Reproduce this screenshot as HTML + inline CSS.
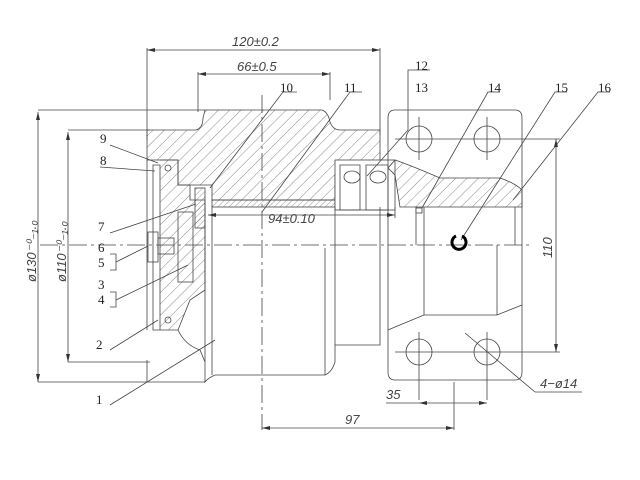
<!DOCTYPE html>
<html><head><meta charset="utf-8"><style>
html,body{margin:0;padding:0;background:#fff;}
svg{display:block;}
text{font-family:"Liberation Serif",serif;fill:#222;}
.it{font-style:italic;font-family:"Liberation Sans",sans-serif;fill:#444;}
</style></head><body>
<svg width="640" height="480" viewBox="0 0 640 480" xmlns="http://www.w3.org/2000/svg">
<defs>
<pattern id="h" patternUnits="userSpaceOnUse" width="8" height="8" patternTransform="rotate(45)">
<line x1="0" y1="0" x2="0" y2="8" stroke="#555" stroke-width="0.7"/></pattern>
<pattern id="h2" patternUnits="userSpaceOnUse" width="4" height="4" patternTransform="rotate(45)">
<line x1="0" y1="0" x2="0" y2="4" stroke="#555" stroke-width="0.6"/></pattern>
</defs>
<g fill="none" stroke="#444" stroke-width="0.8">
<!-- dimension 120 -->
<line x1="147" y1="50" x2="380" y2="50"/>
<line x1="147" y1="48" x2="147" y2="140"/>
<line x1="380" y1="48" x2="380" y2="135"/>
<!-- dimension 66 -->
<line x1="198" y1="74" x2="330" y2="74"/>
<line x1="198" y1="72" x2="198" y2="112"/>
<line x1="330" y1="72" x2="330" y2="100"/>
<!-- diameter dims -->
<line x1="38" y1="110" x2="205" y2="110"/>
<line x1="68" y1="130" x2="150" y2="130"/>
<line x1="38" y1="112" x2="38" y2="382"/>
<line x1="68" y1="132" x2="68" y2="362"/>
<line x1="38" y1="382" x2="205" y2="382"/>
<line x1="68" y1="362" x2="150" y2="362"/>
<!-- main roller hatched upper body -->
<path d="M147 130 L196 130 Q203 128 203 118 L205 110 L322 110 Q328 112 330 122 Q333 130 340 130 L380 130 L380 175 L335 175 L335 200 L212 200 L212 185 L178 185 L178 160 L147 160 Z" fill="url(#h)"/>
<!-- sleeve strip -->
<rect x="212" y="200" width="123" height="7" fill="url(#h2)"/>
<!-- bearings -->
<rect x="335" y="160" width="60" height="50" fill="#fff"/>
<path d="M340 165 h20 v45 h-20 z M366 165 h22 v45 h-22 z"/>
<ellipse cx="352" cy="177" rx="8" ry="6"/><ellipse cx="378" cy="177" rx="8" ry="6"/>
<!-- left end cap -->
<path d="M147 160 L147 330 M147 360 L147 382" />
<path d="M160 160 L178 160 L178 185 L190 185 L190 200 L205 200 L205 290 L190 300 L178 330 L160 330" fill="url(#h)"/>
<path d="M153 165 L160 165 L160 330 L153 330 Z"/>
<circle cx="168" cy="168" r="3"/><circle cx="168" cy="320" r="3"/>
<rect x="148" y="232" width="10" height="30"/>
<rect x="158" y="238" width="16" height="16"/>
<rect x="178" y="212" width="15" height="70"/>
<rect x="195" y="188" width="10" height="40" fill="url(#h2)"/>
<!-- lower roller body -->
<path d="M178 330 Q185 345 200 350 L205 362 L205 382 Q208 378 215 375 L325 375 Q332 372 335 362 L335 345 L380 345 L380 248"/>
<line x1="205" y1="207" x2="205" y2="362"/>
<line x1="212" y1="207" x2="212" y2="375"/>
<line x1="325" y1="248" x2="325" y2="375"/>
<line x1="335" y1="207" x2="335" y2="345"/>
<line x1="380" y1="207" x2="380" y2="248"/>
<!-- right bracket -->
<path d="M395 110 L515 110 Q522 110 522 118 L522 372 Q522 380 515 380 L395 380 Q388 380 388 372 L388 118 Q388 110 395 110 Z"/>
<path d="M388 168 L395 175 L400 207 L522 207 L522 190 Q515 183 500 178 L440 178 Q410 165 395 160 Z" fill="url(#h)"/>
<circle cx="419" cy="139" r="13"/><circle cx="487" cy="139" r="13"/>
<circle cx="419" cy="352" r="13"/><circle cx="487" cy="352" r="13"/>
<line x1="419" y1="117" x2="419" y2="160"/><line x1="487" y1="117" x2="487" y2="160"/>
<line x1="419" y1="332" x2="419" y2="400"/><line x1="487" y1="332" x2="487" y2="400"/>
<line x1="395" y1="139" x2="560" y2="139"/>
<line x1="395" y1="352" x2="560" y2="352"/>
<line x1="416" y1="207" x2="416" y2="245"/><line x1="424" y1="207" x2="424" y2="315"/>
<line x1="497" y1="245" x2="497" y2="315"/><line x1="515" y1="207" x2="515" y2="245"/>
<path d="M388 330 L395 327 L424 315 L497 315 L522 305"/>
<rect x="416" y="208" width="6" height="5" fill="#fff"/>
<!-- centre lines -->
<line x1="40" y1="245" x2="530" y2="245" stroke-dasharray="18 4 3 4"/>
<line x1="262" y1="95" x2="262" y2="430" stroke-dasharray="18 4 3 4"/>
<!-- dim 94 -->
<line x1="208" y1="215" x2="395" y2="215"/>
<line x1="395" y1="207" x2="395" y2="218"/>
<!-- dim 110 -->
<line x1="556" y1="139" x2="556" y2="352"/>
<!-- dim 35/97 -->
<line x1="386" y1="403" x2="487" y2="403"/>
<line x1="262" y1="428" x2="454" y2="428"/>
<line x1="454" y1="382" x2="454" y2="430"/>
<!-- 4-ø14 leader -->
<line x1="465" y1="333" x2="535" y2="392"/><line x1="535" y1="392" x2="582" y2="392"/>
<!-- leaders -->
<path d="M110 145 L158 163"/><path d="M100 167 L155 171"/>
<path d="M110 233 L196 204"/><path d="M110 254 L116 254 L116 270 L110 270 M116 262 L148 246"/>
<path d="M110 292 L116 292 L116 307 L110 307 M116 300 L188 265"/>
<path d="M110 350 L158 320"/><path d="M110 405 L215 340"/>
<path d="M297 92 L283 92 L210 188"/><path d="M362 92 L350 92 L262 212"/>
<path d="M430 70 L408 70 L408 130 L367 176"/><path d="M500 92 L488 92 L422 208"/>
<path d="M567 92 L555 92 L461 240"/><path d="M610 92 L598 92 L513 200"/>
</g>
<path d="M456 236 a7 7 0 1 0 6 0" fill="none" stroke="#000" stroke-width="3"/>
<g fill="#333">
<polygon points="147,50 155,48 155,52"/><polygon points="380,50 372,48 372,52"/>
<polygon points="198,74 206,72 206,76"/><polygon points="330,74 322,72 322,76"/>
<polygon points="38,112 36,120 40,120"/><polygon points="38,382 36,374 40,374"/>
<polygon points="68,132 66,140 70,140"/><polygon points="68,362 66,354 70,354"/>
<polygon points="556,139 554,147 558,147"/><polygon points="556,352 554,344 558,344"/>
<polygon points="419,403 427,401 427,405"/><polygon points="487,403 479,401 479,405"/>
<polygon points="262,428 270,426 270,430"/><polygon points="454,428 446,426 446,430"/>
<polygon points="208,215 216,213 216,217"/><polygon points="395,215 387,213 387,217"/>
</g>
<g font-size="13">
<text class="it" x="232" y="46">120±0.2</text>
<text class="it" x="237" y="71">66±0.5</text>
<text class="it" x="268" y="223">94±0.10</text>
<text class="it" x="386" y="399">35</text>
<text class="it" x="345" y="424">97</text>
<text class="it" x="540" y="388">4−ø14</text>
<text class="it" transform="translate(552,258) rotate(-90)">110</text>
<text class="it" transform="translate(36,282) rotate(-90)">ø130⁻⁰₋₁.₀</text>
<text class="it" transform="translate(66,282) rotate(-90)">ø110⁻⁰₋₁.₀</text>
<text x="100" y="143">9</text><text x="100" y="165">8</text>
<text x="98" y="231">7</text><text x="98" y="252">6</text><text x="98" y="267">5</text>
<text x="98" y="289">3</text><text x="98" y="304">4</text>
<text x="96" y="349">2</text><text x="96" y="404">1</text>
<text x="280" y="92">10</text><text x="344" y="92">11</text>
<text x="415" y="70">12</text><text x="415" y="92">13</text>
<text x="488" y="92">14</text><text x="555" y="92">15</text><text x="598" y="92">16</text>
</g>
</svg>
</body></html>
